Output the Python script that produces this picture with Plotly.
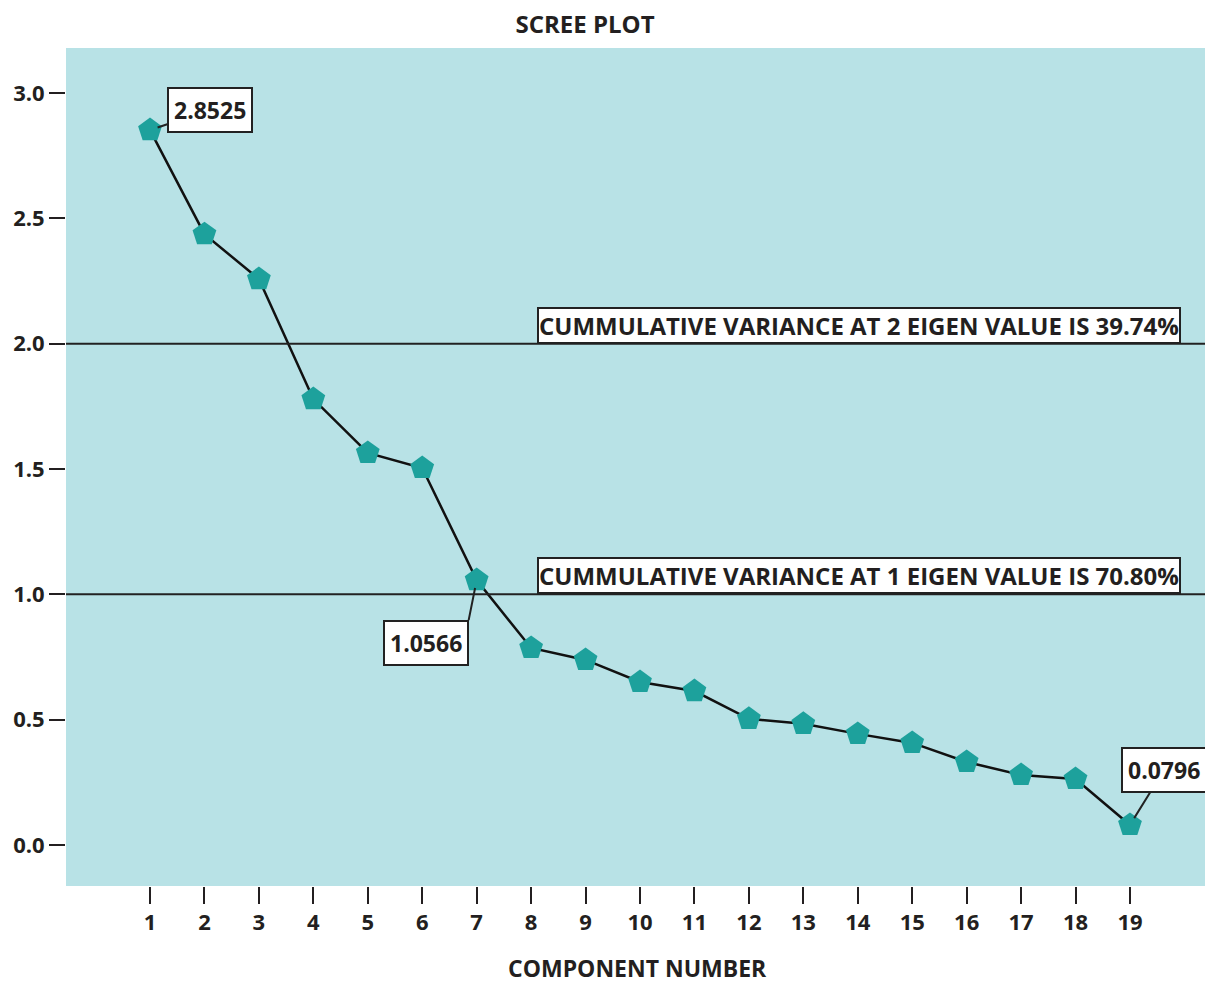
import plotly.graph_objects as go

components = list(range(1, 20))
eigenvalues = [2.8525, 2.437, 2.258, 1.779, 1.564, 1.504, 1.0566, 0.786, 0.738,
               0.650, 0.614, 0.503, 0.483, 0.443, 0.407, 0.331, 0.279, 0.263, 0.0796]
x_ticks = components
y_ticks = [0.0, 0.5, 1.0, 1.5, 2.0, 2.5, 3.0]
y_tick_labels = ["0.0", "0.5", "1.0", "1.5", "2.0", "2.5", "3.0"]
ref_lines = [2.0, 1.0]
ref_texts = ["CUMMULATIVE VARIANCE AT 2 EIGEN VALUE IS 39.74%",
             "CUMMULATIVE VARIANCE AT 1 EIGEN VALUE IS 70.80%"]
x_title = "COMPONENT NUMBER"

FONT = "Open Sans"
BG = "#B8E2E6"
TEAL = "#1DA19C"
INK = "#231f20"

fig = go.Figure()
fig.add_trace(go.Scatter(
    x=components, y=eigenvalues, mode="lines+markers",
    line=dict(color="#111111", width=2.5),
    marker=dict(symbol="pentagon", size=25, color=TEAL, line=dict(width=0)),
    showlegend=False, hoverinfo="x+y"))

for yv, txt in zip(ref_lines, ref_texts):
    fig.add_shape(type="line", xref="paper", x0=0, x1=1, yref="y", y0=yv, y1=yv,
                  line=dict(color="#222222", width=2))
    fig.add_annotation(x=8.11, y=yv, xref="x", yref="y", text=f"<b>{txt}</b>",
                       showarrow=False, xanchor="left", yanchor="bottom",
                       bgcolor="white", bordercolor="#222222", borderwidth=2, borderpad=0,
                       font=dict(family=FONT, size=24, color=INK))

# value labels
lab_idx = [0, 6, 18]
lab_ax = [60, -8, 34]
lab_ay = [-20, 40, -55]
lab_xanchor = ["auto", "right", "auto"]
lab_yanchor = ["auto", "top", "auto"]
for i, ax, ay, xa, ya in zip(lab_idx, lab_ax, lab_ay, lab_xanchor, lab_yanchor):
    fig.add_annotation(x=components[i], y=eigenvalues[i], xref="x", yref="y",
                       text=f"<b>{eigenvalues[i]:.4f}</b>", showarrow=True, arrowhead=0,
                       arrowwidth=2, arrowcolor="#222222", ax=ax, ay=ay,
                       xanchor=xa, yanchor=ya, standoff=8,
                       bgcolor="white", bordercolor="#222222", borderwidth=2, borderpad=5,
                       font=dict(family=FONT, size=23, color=INK))

# x-axis title
fig.add_annotation(x=0.502, y=-82 / 838, xref="paper", yref="paper", text=f"<b>{x_title}</b>",
                   showarrow=False, xanchor="center", yanchor="middle",
                   font=dict(family=FONT, size=23, color=INK))

fig.update_layout(
    width=1205, height=983,
    margin=dict(l=66, r=0, t=48, b=97),
    paper_bgcolor="white", plot_bgcolor=BG,
    title=dict(text="<b>SCREE PLOT</b>", x=585 / 1205, xanchor="center", y=1 - 25 / 983,
               yanchor="middle", font=dict(family=FONT, size=24, color=INK)),
    font=dict(family=FONT, color=INK),
)
fig.update_xaxes(range=[-0.543, 20.378], tickvals=x_ticks, ticktext=[f"<b>{v}</b>" for v in x_ticks],
                 ticks="outside", ticklen=17, tickwidth=2, tickcolor=INK,
                 showgrid=False, zeroline=False, showline=False, automargin=False,
                 tickfont=dict(family=FONT, size=22, color=INK))
fig.update_yaxes(range=[-0.164, 3.18], tickvals=y_ticks, ticktext=[f"<b>{t}</b>" for t in y_tick_labels],
                 ticks="outside", ticklen=16, tickwidth=2, tickcolor=INK,
                 showgrid=False, zeroline=False, showline=False, automargin=False,
                 tickfont=dict(family=FONT, size=22, color=INK))

fig.write_html("out.html", config={"displayModeBar": False},
               post_script="document.body.style.margin='0';document.body.style.overflow='hidden';")
